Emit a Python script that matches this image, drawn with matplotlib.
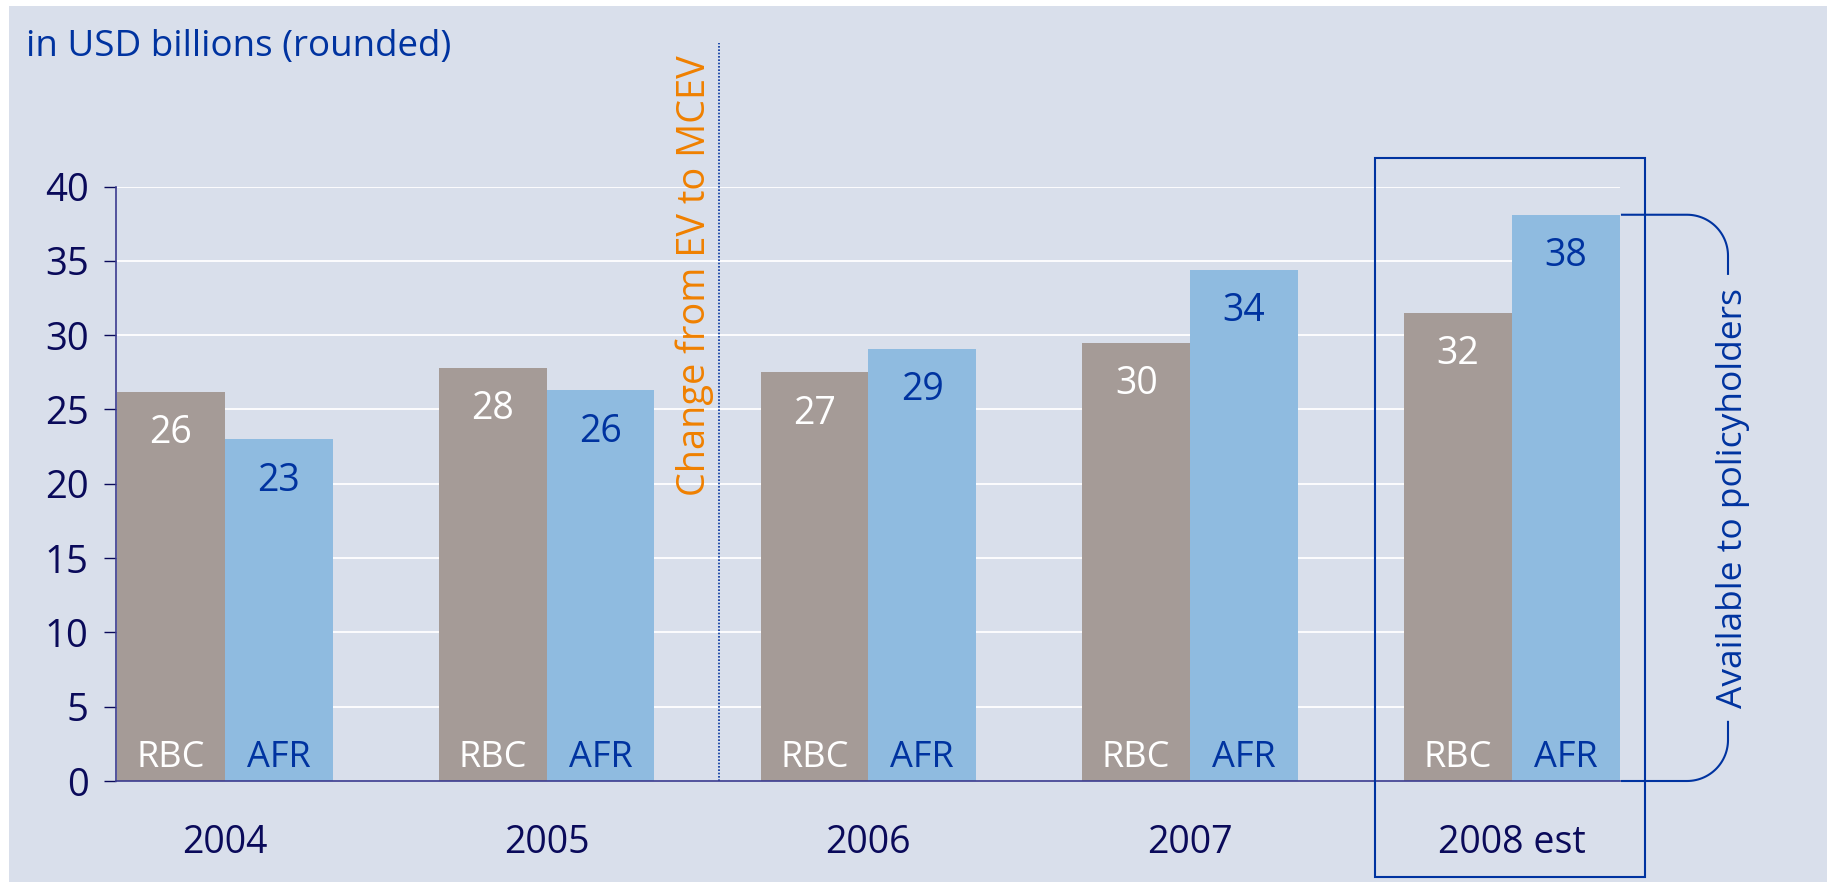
import numpy as np
import matplotlib
matplotlib.use("Agg")
import matplotlib.pyplot as plt
from matplotlib.patches import Rectangle
from matplotlib.transforms import IdentityTransform, blended_transform_factory

plt.rcParams['font.family'] = ['Open Sans', 'DejaVu Sans']

# data
years = ["2004", "2005", "2006", "2007", "2008 est"]
rbc = [26.2, 27.8, 27.5, 29.5, 31.5]
afr = [23.0, 26.3, 29.1, 34.4, 38.1]
rbc_labels = ["26", "28", "27", "30", "32"]
afr_labels = ["23", "26", "29", "34", "38"]
yticks = [0, 5, 10, 15, 20, 25, 30, 35, 40]

# colours
bg = "#D9DFEB"
grey = "#A59B97"
lblue = "#8FBBE0"
blue = "#0033A0"
navy = "#0A0A5A"
orange = "#F08000"

W, H = 1827, 883
fig = plt.figure(figsize=(W / 100, H / 100), dpi=100)
fig.patch.set_facecolor("white")
fig.add_artist(Rectangle((9 / W, 1 / H), 1 - 9 / W, 1 - 7 / H, transform=fig.transFigure,
                         fc=bg, ec="none", zorder=-10))

ax = fig.add_axes([116 / W, 1 - 781 / H, 1504 / W, 594.5 / H])
ax.set_facecolor(bg)
ax.patch.set_alpha(0)

x = np.arange(len(years))
w = 0.335
ax.bar(x - w / 2, rbc, width=w, color=grey, zorder=2)
ax.bar(x + w / 2, afr, width=w, color=lblue, zorder=2)

ax.set_xlim(-w - 0.003, len(years) - 1 + w + 0.001)
ax.set_ylim(0, 40)
ax.set_yticks(yticks)
ax.set_yticklabels([str(t) for t in yticks], fontsize=27.5, color=navy)
ax.tick_params(axis='y', length=8.6, width=1, color=navy, pad=11)
ax.set_xticks([])
for t in yticks[1:]:
    ax.axhline(t, color="white", lw=1.3, zorder=1)

for s in ["top", "right"]:
    ax.spines[s].set_visible(False)
for s in ["left", "bottom"]:
    ax.spines[s].set_color("#3B3B8F")
    ax.spines[s].set_linewidth(1.2)
    ax.spines[s].set_zorder(3)

# labels in bars
for i in range(len(years)):
    ax.annotate(rbc_labels[i], (x[i] - w / 2, rbc[i]), xytext=(0, -37), textcoords="offset points",
                ha="center", va="baseline", fontsize=27, color="white", zorder=4)
    ax.annotate(afr_labels[i], (x[i] + w / 2, afr[i]), xytext=(0, -37), textcoords="offset points",
                ha="center", va="baseline", fontsize=27, color=blue, zorder=4)
    ax.annotate("RBC", (x[i] - w / 2, 0), xytext=(0, 10), textcoords="offset points",
                ha="center", va="baseline", fontsize=26, color="white", zorder=4)
    ax.annotate("AFR", (x[i] + w / 2, 0), xytext=(0, 10), textcoords="offset points",
                ha="center", va="baseline", fontsize=26, color=blue, zorder=4)
    ax.annotate(years[i], (x[i], 0), xytext=(0, -52), textcoords="offset points",
                ha="center", va="baseline", fontsize=27, color=navy, annotation_clip=False)

# method change marker
bt = blended_transform_factory(ax.transData, ax.transAxes)
ax.plot([1.535, 1.535], [0, 1.241], transform=bt, color=blue, lw=1.2, ls=(0, (1, 1)),
        clip_on=False, zorder=3)
ax.text(1.46, 0.85, "Change from EV to MCEV", transform=bt, rotation=90, ha="center", va="center",
        fontsize=27.3, color=orange)

# box around the estimate
ax.add_patch(Rectangle((3.574, -0.1615), 4.413 - 3.574, 1.048 + 0.1615, transform=bt,
                       fill=False, ec=blue, lw=1.5, clip_on=False, zorder=5))

ax.text(26 / W, 1 - 56 / H, "in USD billions (rounded)", transform=fig.transFigure,
        fontsize=26.5, color=blue, va="baseline", ha="left")

# bracket for AFR 2008
fig.canvas.draw()
px = IdentityTransform()
_, y_top = ax.transData.transform((0, afr[-1]))
_, y_0 = ax.transData.transform((0, 0))
x_right = ax.transData.transform((ax.get_xlim()[1], 0))[0]
x1, x2, r = x_right + 2, 1687, 41
xv = x2 + r
mid = (y_top + y_0) / 2
t = np.linspace(np.pi / 2, 0, 30)
top_x = np.concatenate([[x1], x2 + r * np.cos(t), [xv]])
top_y = np.concatenate([[y_top], y_top - r + r * np.sin(t), [mid + 224]])
t = np.linspace(0, -np.pi / 2, 30)
bot_x = np.concatenate([[xv], x2 + r * np.cos(t), [x1]])
bot_y = np.concatenate([[mid - 224], y_0 + r + r * np.sin(t), [y_0]])
for bx, by in [(top_x, top_y), (bot_x, bot_y)]:
    ax.plot(bx, by, transform=px, color=blue, lw=1.5, clip_on=False)
ax.text(xv + 5, mid, "Available to policyholders", transform=px, rotation=90,
        ha="center", va="center", fontsize=25.5, color=blue)

fig.savefig("out.png", dpi=100, facecolor=fig.get_facecolor())
